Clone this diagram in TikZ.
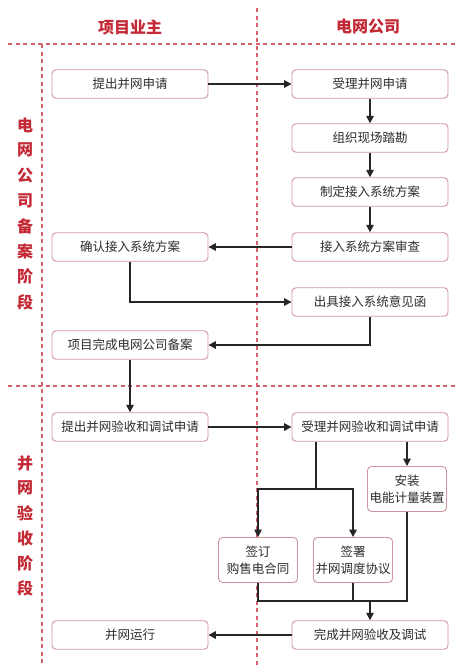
\documentclass[tikz,border=0pt]{standalone}
\usepackage{fontspec}
\setmainfont{Noto Sans CJK SC}
\usepackage{tikz}
\usetikzlibrary{arrows.meta,positioning,calc}

\definecolor{hdred}{RGB}{196,40,52}
\definecolor{lnred}{RGB}{212,96,108}
\definecolor{bxred}{RGB}{208,150,158}
\definecolor{txgray}{RGB}{45,45,45}

\begin{document}
\begin{tikzpicture}[
  x=1pt, y=-1pt,
  box/.style={draw=bxred, fill=white, rounded corners=4pt, line width=0.9pt,
    minimum width=156pt, minimum height=28.5pt, inner sep=0pt,
    text=txgray, font=\fontsize{12.5}{14}\selectfont},
  sbox/.style={box, minimum width=79pt, minimum height=45pt, align=center,
    font=\fontsize{12.5}{17}\selectfont},
  hd/.style={text=hdred, font=\fontsize{16}{18}\selectfont\bfseries},
  side/.style={hd, inner sep=0pt},
  sep/.style={lnred, line width=1.1pt, dash pattern=on 4pt off 3.5pt},
  arr/.style={-{Triangle[length=7.5pt,width=7.5pt]}, line width=1.6pt, black!85},
  ln/.style={line width=1.6pt, black!85},
]
\useasboundingbox (0,0) rectangle (468,672);
% ---------------- lanes ----------------
\draw[sep] (8,44) -- (458,44);
\draw[sep] (8,386) -- (458,386);
\draw[sep] (257,8) -- (257,665);
\draw[sep] (42,44) -- (42,665);
\node[hd] (hOwner) at (130,27) {项目业主};
\node[hd] (hGrid) at (368,27) {电网公司};
\foreach \ch [count=\i] in {电,网,公,司,备,案,阶,段}
  \node[side] (sa\i) at (25,{125+25.3*(\i-1)}) {\ch};
\foreach \ch [count=\i] in {并,网,验,收,阶,段}
  \node[side] (sb\i) at (25,{463+25*(\i-1)}) {\ch};
% ---------------- stage 1 ----------------
\node[box] (a1) at (130,84) {提出并网申请};
\node[box] (b1) at (370,84) {受理并网申请};
\node[box] (b2) at (370,138) {组织现场踏勘};
\node[box] (b3) at (370,192) {制定接入系统方案};
\node[box] (b4) at (370,247) {接入系统方案审查};
\node[box] (a2) at (130,247) {确认接入系统方案};
\node[box] (b5) at (370,302) {出具接入系统意见函};
\node[box] (a3) at (130,345) {项目完成电网公司备案};
% ---------------- stage 2 ----------------
\node[box] (a4) at (130,427) {提出并网验收和调试申请};
\node[box] (b6) at (370,427) {受理并网验收和调试申请};
\node[sbox] (c1) at (407,489) {安装\\电能计量装置};
\node[sbox] (c2) at (258,560) {签订\\购售电合同};
\node[sbox] (c3) at (353,560) {签署\\并网调度协议};
\node[box] (b7) at (370,635) {完成并网验收及调试};
\node[box] (a5) at (130,635) {并网运行};
% ---------------- connectors ----------------
\draw[arr] (a1) -- (b1);
\draw[arr] (b1) -- (b2);
\draw[arr] (b2) -- (b3);
\draw[arr] (b3) -- (b4);
\draw[arr] (b4) -- (a2);
\draw[arr] (a2.south) |- (b5.west);
\draw[arr] (b5.south) |- (a3.east);
\draw[arr] (a3) -- (a4);
\draw[arr] (a4) -- (b6);
\coordinate (split) at (316,489);
\draw[ln] (b6.south -| split) -- (split);
\draw[arr] (split) -| (c2.north);
\draw[arr] (split) -| (c3.north);
\draw[arr] (b6.south -| c1.north) -- (c1.north);
\coordinate (join) at (370,601);
\draw[ln] (c2.south) |- (join);
\draw[ln] (c3.south) -- (c3.south |- join);
\draw[ln] (c1.south) |- (join);
\draw[arr] (join) -- (b7.north);
\draw[arr] (b7) -- (a5);
\end{tikzpicture}
\end{document}
